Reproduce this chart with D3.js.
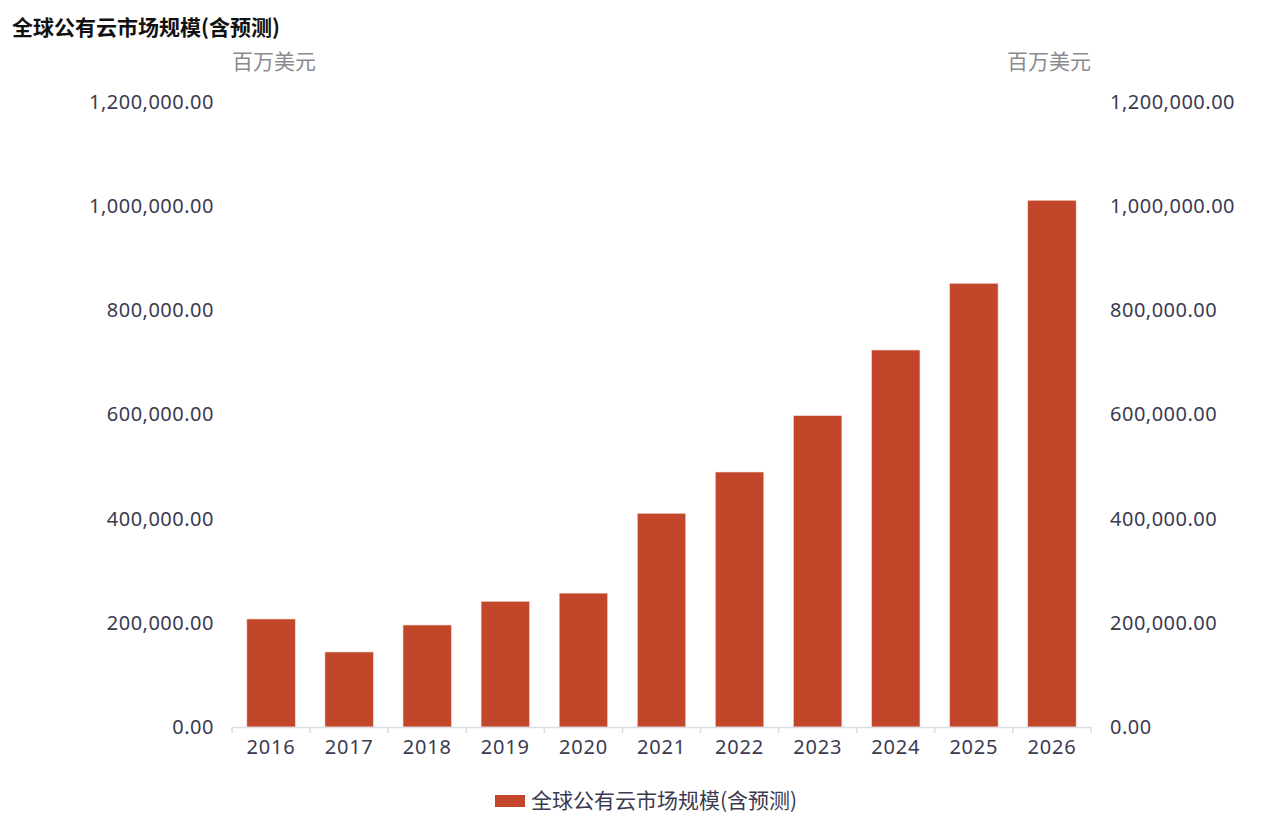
<!DOCTYPE html>
<html>
<head>
<meta charset="utf-8">
<script src="https://cdn.jsdelivr.net/npm/d3@7"></script>
<style>
  body { margin: 0; background: #fff; font-family: "Noto Sans CJK SC", "Noto Sans", sans-serif; }
</style>
</head>
<body>
<div id="container"></div>
<script>
/* DATA */
const years = ["2016", "2017", "2018", "2019", "2020", "2021", "2022", "2023", "2024", "2025", "2026"];
const marketSize = [207400, 144000, 195800, 241300, 257000, 410300, 489600, 597700, 723800, 851900, 1011300];
const yTicks = [0, 200000, 400000, 600000, 800000, 1000000, 1200000];
const seriesName = "全球公有云市场规模(含预测)";
const unitLabel = "百万美元";

/* CONSTANTS */
const width = 1287,
  height = 819,
  margin = { top: 102, bottom: 92, left: 232, right: 196 },
  barColor = "#c2472a",
  textColor = "#3b3a50";

const svg = d3.select("#container")
  .append("svg")
  .attr("width", width)
  .attr("height", height);

// SCALES
const xScale = d3.scaleBand()
  .domain(years)
  .range([margin.left, width - margin.right])
  .paddingInner(0.38)
  .paddingOuter(0.19);

const yScale = d3.scaleLinear()
  .domain([0, 1200000])
  .range([height - margin.bottom, margin.top]);

const fmt = d3.format(",.2f");

// title
svg.append("text")
  .attr("x", 12)
  .attr("y", 35)
  .attr("font-size", 21)
  .attr("font-weight", "bold")
  .attr("fill", "#111")
  .text(seriesName);

// unit labels
svg.append("text")
  .attr("x", margin.left)
  .attr("y", 69)
  .attr("font-size", 21)
  .attr("fill", "#8a8a8f")
  .text(unitLabel);

svg.append("text")
  .attr("x", width - margin.right)
  .attr("y", 69)
  .attr("text-anchor", "end")
  .attr("font-size", 21)
  .attr("fill", "#8a8a8f")
  .text(unitLabel);

// AXES
const yAxisLeft = d3.axisLeft(yScale).tickValues(yTicks).tickFormat(fmt).tickSize(0).tickPadding(18);
const yAxisRight = d3.axisRight(yScale).tickValues(yTicks).tickFormat(fmt).tickSize(0).tickPadding(19);

svg.append("g")
  .attr("class", "yAxis")
  .attr("transform", `translate(${margin.left}, 0)`)
  .call(yAxisLeft)
  .call(g => g.select(".domain").remove());

svg.append("g")
  .attr("class", "yAxis")
  .attr("transform", `translate(${width - margin.right}, 0)`)
  .call(yAxisRight)
  .call(g => g.select(".domain").remove());

svg.selectAll(".yAxis text")
  .attr("font-size", 20)
  .attr("letter-spacing", 0.5)
  .attr("fill", textColor)
  .attr("font-family", "'Noto Sans', sans-serif");

// BARS
svg.selectAll("rect.bar")
  .data(marketSize)
  .join("rect")
  .attr("class", "bar")
  .attr("x", (d, i) => xScale(years[i]))
  .attr("y", d => yScale(d))
  .attr("width", xScale.bandwidth())
  .attr("height", d => yScale(0) - yScale(d))
  .attr("fill", barColor)
  .attr("stroke", "#f3d9d2")
  .attr("stroke-width", 0.6);

// x axis
const xAxis = d3.axisBottom(xScale).tickSize(0).tickPadding(13);
const xg = svg.append("g")
  .attr("class", "xAxis")
  .attr("transform", `translate(0, ${yScale(0)})`)
  .call(xAxis);

xg.select(".domain").attr("stroke", "#dcdde3").attr("stroke-width", 1.5);
xg.selectAll("text")
  .attr("font-size", 20)
  .attr("letter-spacing", 0.8)
  .attr("fill", textColor)
  .attr("font-family", "'Noto Sans', sans-serif");

// band boundary ticks
const bounds = d3.range(years.length + 1).map(i => margin.left + i * (width - margin.left - margin.right) / years.length);
xg.selectAll("line.sep")
  .data(bounds)
  .join("line")
  .attr("class", "sep")
  .attr("x1", d => d)
  .attr("x2", d => d)
  .attr("y1", 0)
  .attr("y2", 6)
  .attr("stroke", "#dcdde3")
  .attr("stroke-width", 1.5);

// LEGEND
const legend = svg.append("g").attr("transform", "translate(495, 801)");
legend.append("rect")
  .attr("x", 0)
  .attr("y", -6)
  .attr("width", 30)
  .attr("height", 12)
  .attr("fill", barColor);
legend.append("text")
  .attr("x", 36)
  .attr("y", 0)
  .attr("dy", "0.35em")
  .attr("font-size", 21)
  .attr("fill", textColor)
  .text(seriesName);
</script>
</body>
</html>
